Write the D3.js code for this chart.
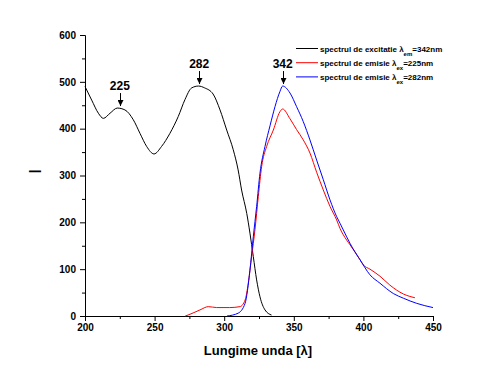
<!DOCTYPE html>
<html>
<head>
<meta charset="utf-8">
<script src="https://cdn.jsdelivr.net/npm/d3@7"></script>
<style>
  body { margin: 0; background: #fff; }
  svg { display: block; }
</style>
</head>
<body>
<div id="chart"></div>
<script>
// spectrul de excitatie (lambda em = 342nm)
var excWave = [200, 204.8, 209.6, 213.2, 218, 223.2, 228.7, 234.7, 239.5, 244.3, 249.6, 255, 261, 267, 271.8, 276.6, 281.5, 286, 292, 297, 301.8, 306.5, 310, 312.5, 316.2, 318.5, 320.9, 323.3, 325.7, 329.3, 334];
var excVal  = [490, 461, 433, 422, 433, 444, 440, 419, 390, 362, 346, 362, 390, 426, 462, 487, 491, 487, 474, 440, 397, 355, 312, 269, 219, 177, 127, 77, 41, 13, 2];

// spectrul de emisie (lambda ex = 225nm)
var em225Wave = [272, 274, 282.6, 288.6, 294.6, 304, 311.4, 315, 317.3, 319.7, 322.1, 324.5, 326.9, 330.5, 335.3, 340, 342, 347.3, 352, 356.8, 361.6, 366.4, 371.2, 376, 380.8, 383.2, 388, 390.4, 397.6, 400, 404.7, 411.9, 419, 428.7, 437];
var em225Val  = [0, 2, 13, 20, 18, 18, 20, 34, 70, 127, 184, 255, 319, 362, 397, 436, 442, 421, 398, 376, 348, 307, 269, 234, 205, 187, 162, 152, 120, 109, 100, 85, 66, 47, 39];

// spectrul de emisie (lambda ex = 282nm)
var em282Wave = [302, 310, 315, 318.5, 320.9, 323.3, 325.7, 329.3, 332.9, 336.5, 340, 342, 347.3, 352, 356.8, 361.6, 366.4, 371.2, 376, 380.8, 383.2, 388, 390.4, 397.6, 404.7, 411.9, 421.5, 428.7, 438.3, 450];
var em282Val  = [0, 6, 27, 98, 169, 234, 305, 362, 406, 447, 479, 491, 476, 447, 415, 376, 333, 291, 248, 212, 198, 169, 155, 120, 88, 70, 48, 38, 27, 18];

var xTicks = [200, 250, 300, 350, 400, 450];
var yTicks = [0, 100, 200, 300, 400, 500, 600];

var peakLabels = ["225", "282", "342"];
var peakWave = [225, 282, 342];
var peakVal = [444, 491, 491];

var legendLabels = [
  ["spectrul de excitatie \u03bb", "em", "=342nm"],
  ["spectrul de emisie \u03bb", "ex", "=225nm"],
  ["spectrul de emisie \u03bb", "ex", "=282nm"]
];
var legendColors = ["#000000", "#ff0000", "#0000ff"];

var width = 487, height = 385;
var margin = ({top: 35, right: 54, bottom: 69, left: 85});
var font = "'Liberation Sans', Arial, sans-serif";

var x = d3.scaleLinear()
  .domain([200, 450])
  .range([margin.left, width - margin.right]);

var y = d3.scaleLinear()
  .domain([0, 600])
  .range([height - margin.bottom, margin.top]);

var svg = d3.select("#chart").append("svg")
  .attr("width", width)
  .attr("height", height);

// axe
var xAxis = g => g
  .attr("transform", "translate(0," + y(0) + ")")
  .call(d3.axisBottom(x).tickValues(xTicks).tickSize(5).tickPadding(3).tickFormat(d3.format("d")))
  .call(g => g.selectAll("text").attr("font-weight", "bold").attr("font-size", "10px").attr("font-family", font))
  .call(g => g.selectAll(".domain, line").attr("stroke", "#000"));

var xMinor = g => g
  .attr("transform", "translate(0," + y(0) + ")")
  .call(d3.axisBottom(x).tickValues(d3.range(225, 450, 50)).tickSize(3).tickFormat(""))
  .call(g => g.select(".domain").remove());

var yAxis = g => g
  .attr("transform", "translate(" + x(200) + ",0)")
  .call(d3.axisLeft(y).tickValues(yTicks).tickSize(5).tickPadding(4).tickFormat(d3.format("d")))
  .call(g => g.selectAll("text").attr("font-weight", "bold").attr("font-size", "10px").attr("font-family", font))
  .call(g => g.selectAll(".domain, line").attr("stroke", "#000"));

var yMinor = g => g
  .attr("transform", "translate(" + x(200) + ",0)")
  .call(d3.axisLeft(y).tickValues(d3.range(50, 600, 100)).tickSize(3).tickFormat(""))
  .call(g => g.select(".domain").remove());

svg.append("g").call(xMinor);
svg.append("g").call(yMinor);
svg.append("g").call(xAxis);
svg.append("g").call(yAxis);

svg.append("text")
  .attr("x", (x(200) + x(450)) / 2 - 1)
  .attr("y", 355)
  .attr("text-anchor", "middle")
  .attr("font-family", font)
  .attr("font-weight", "bold")
  .attr("font-size", "13px")
  .text("Lungime unda [\u03bb]");

// eticheta axei y, rotita
svg.append("text")
  .attr("transform", "translate(40.5,171.5) rotate(-90)")
  .attr("text-anchor", "middle")
  .attr("font-family", font)
  .attr("font-size", "17px")
  .text("I");

// curbe
var line = d3.line()
  .x(d => x(d[0]))
  .y(d => y(d[1]))
  .curve(d3.curveMonotoneX);

var series = [
  {w: excWave, v: excVal, color: legendColors[0]},
  {w: em225Wave, v: em225Val, color: legendColors[1]},
  {w: em282Wave, v: em282Val, color: legendColors[2]}
];

svg.append("g")
  .selectAll("path")
  .data(series)
  .join("path")
    .attr("fill", "none")
    .attr("stroke", d => d.color)
    .attr("stroke-width", 1)
    .attr("d", d => line(d.w.map((w, i) => [w, d.v[i]])));

// sageti la maxime
svg.append("defs").append("marker")
  .attr("id", "arrow")
  .attr("viewBox", "0 0 6 6")
  .attr("refX", 3).attr("refY", 6)
  .attr("markerWidth", 6).attr("markerHeight", 6)
  .attr("markerUnits", "userSpaceOnUse")
  .attr("orient", "0")
  .append("path")
    .attr("d", "M0,0 L6,0 L3,6 Z")
    .attr("fill", "#000");

var peaks = svg.append("g")
  .selectAll("g")
  .data(peakLabels)
  .join("g");

peaks.append("line")
  .attr("x1", (d, i) => Math.round(x(peakWave[i])) + 0.5)
  .attr("x2", (d, i) => Math.round(x(peakWave[i])) + 0.5)
  .attr("y1", (d, i) => y(peakVal[i]) - 15)
  .attr("y2", (d, i) => y(peakVal[i]) - 2)
  .attr("stroke", "#000")
  .attr("marker-end", "url(#arrow)");

peaks.append("text")
  .attr("x", (d, i) => x(peakWave[i]))
  .attr("y", (d, i) => y(peakVal[i]) - 18)
  .attr("text-anchor", "middle")
  .attr("font-family", font)
  .attr("font-weight", "bold")
  .attr("font-size", "12px")
  .text(d => d);

// legenda
var legend = svg.append("g")
  .selectAll("g")
  .data(legendLabels)
  .join("g")
    .attr("transform", (d, i) => "translate(296," + (48.5 + i * 14.2) + ")");

legend.append("line")
  .attr("x1", 0).attr("x2", 22)
  .attr("stroke", (d, i) => legendColors[i]);

var lt = legend.append("text")
  .attr("x", 24)
  .attr("y", 3)
  .attr("font-family", font)
  .attr("font-weight", "bold")
  .attr("font-size", "8px");

lt.append("tspan").text(d => d[0]);
lt.append("tspan").attr("dy", 4).attr("font-size", "6px").text(d => d[1]);
lt.append("tspan").attr("dy", -4).text(d => d[2]);
</script>
</body>
</html>
